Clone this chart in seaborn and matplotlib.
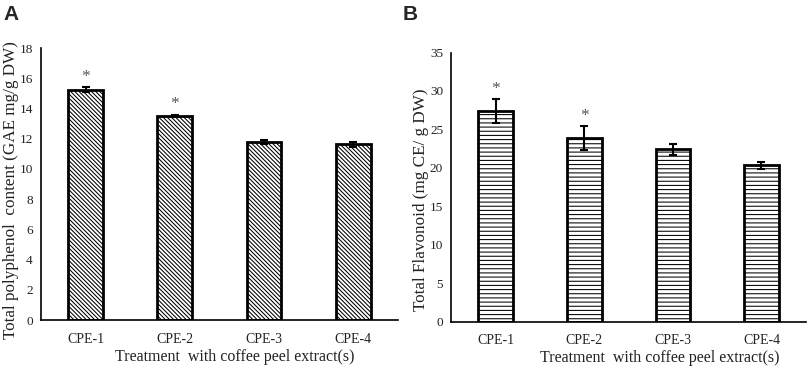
import matplotlib
matplotlib.use("Agg")
import matplotlib.pyplot as plt
import seaborn as sns
import numpy as np

categories = ["CPE-1", "CPE-2", "CPE-3", "CPE-4"]
polyphenol = [15.25, 13.52, 11.8, 11.63]
polyphenol_err = [0.15, 0.08, 0.15, 0.15]
flavonoid = [27.4, 23.9, 22.4, 20.35]
flavonoid_err = [1.5, 1.55, 0.75, 0.45]
polyphenol_sig = ["*", "*", "", ""]
flavonoid_sig = ["*", "*", "", ""]

sns.set_theme(style="white")
plt.rcParams["font.family"] = ["Liberation Serif", "DejaVu Serif"]
plt.rcParams["hatch.linewidth"] = 0.75

fig = plt.figure(figsize=(8.09, 3.70), dpi=100)
axA = fig.add_axes([0.0507, 0.135, 0.441, 0.735])
axB = fig.add_axes([0.558, 0.1305, 0.438, 0.7275])


def draw(ax, vals, errs, sig, hatch, ymax, ystep, ylabel, star_off):
    sns.barplot(x=categories, y=vals, ax=ax, color="white", edgecolor="black",
                linewidth=2.0, width=0.39, saturation=1)
    for p in ax.patches:
        p.set_hatch(hatch)
        p.set_facecolor("white")
    xs = np.arange(len(categories))
    ax.errorbar(xs, vals, yerr=errs, fmt="none", ecolor="black", elinewidth=1.5,
                capsize=3, capthick=1.5, zorder=5)
    for x, v, e, s in zip(xs, vals, errs, sig):
        if s:
            ax.text(x, v + e + star_off, s, ha="center", va="bottom",
                    fontsize=12.5, color="#555555")
    ax.set_xlim(-0.5, 3.5)
    ax.set_ylim(0, ymax)
    ax.set_yticks(np.arange(0, ymax + 0.01, ystep))
    ax.tick_params(axis="both", length=0)
    ax.tick_params(axis="y", labelsize=9.5, pad=6, colors="#222222")
    ax.tick_params(axis="x", labelsize=10, pad=9, colors="#222222")
    for side in ["top", "right"]:
        ax.spines[side].set_visible(False)
    for side in ["left", "bottom"]:
        ax.spines[side].set_color("black")
        ax.spines[side].set_linewidth(1.2)
    ax.set_xlabel("Treatment  with coffee peel extract(s)", fontsize=11.5,
                  color="#222222")
    ax.set_ylabel(ylabel, fontsize=12.3, color="#222222")


draw(axA, polyphenol, polyphenol_err, polyphenol_sig, "\\" * 8, 18, 2,
     "Total polyphenol  content (GAE mg/g DW)", 0.15)
axA.yaxis.set_label_coords(-0.062, 0.478)
axA.xaxis.set_label_coords(0.542, -0.105)
draw(axB, flavonoid, flavonoid_err, flavonoid_sig, "----", 35, 5,
     "Total Flavonoid (mg CE/ g DW)", 0.3)
axB.yaxis.set_label_coords(-0.064, 0.452)
axB.xaxis.set_label_coords(0.587, -0.105)

fig.text(0.004, 0.962, "A", fontsize=15, fontweight="bold",
         family="Liberation Sans", ha="left", va="center")
fig.text(0.498, 0.962, "B", fontsize=15, fontweight="bold",
         family="Liberation Sans", ha="left", va="center")

fig.savefig("out.png", dpi=100)
